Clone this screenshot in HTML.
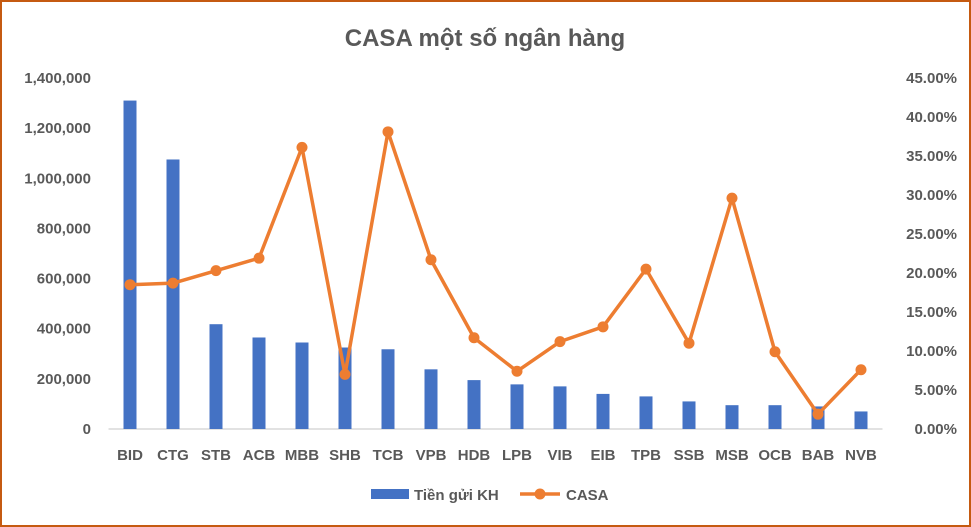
<!DOCTYPE html>
<html><head><meta charset="utf-8"><style>
body{margin:0;background:#fff}
svg{display:block;font-family:"Liberation Sans",sans-serif}
</style></head><body>
<svg id="chart" width="971" height="527">
<rect x="1" y="1" width="969" height="525" fill="#fff" stroke="#C55A11" stroke-width="2"/>
<text x="485" y="46" text-anchor="middle" font-size="24" font-weight="bold" fill="#595959">CASA một số ngân hàng</text>
<g id="g"></g>
</svg>
<script>
const categories=["BID","CTG","STB","ACB","MBB","SHB","TCB","VPB","HDB","LPB","VIB","EIB","TPB","SSB","MSB","OCB","BAB","NVB"];
const deposits=[1310000,1075000,418000,365000,345000,325000,318000,238000,195000,178000,170000,140000,130000,110000,95000,95000,90000,70000];
const casa=[18.5,18.7,20.3,21.9,36.1,7.0,38.1,21.7,11.7,7.4,11.2,13.1,20.5,11.0,29.6,9.9,1.9,7.6];
const leftTicks=[0,200000,400000,600000,800000,1000000,1200000,1400000];
const rightTicks=[0,5,10,15,20,25,30,35,40,45];
const NS="http://www.w3.org/2000/svg";
const g=document.getElementById('g');
const L=108.5,R=882.5,T=78,B=429;
const step=(R-L)/categories.length;
const xc=i=>L+step*(i+0.5);
const yl=v=>B-(v/1400000)*(B-T);
const yr=v=>B-(v/45)*(B-T);
function mk(tag,attrs,txt){const e=document.createElementNS(NS,tag);for(const k in attrs)e.setAttribute(k,attrs[k]);if(txt!==undefined)e.textContent=txt;g.appendChild(e);return e;}
const ax=mk('line',{x1:L,x2:R,y1:B,y2:B,stroke:'#d9d9d9','stroke-width':1.5});


leftTicks.forEach(v=>{const t=mk('text',{x:91,y:yl(v)+5,'text-anchor':'end','font-size':15,'font-weight':'bold',fill:'#595959'},v.toLocaleString('en-US'));

});
rightTicks.forEach(v=>{const t=mk('text',{x:957,y:yr(v)+5,'text-anchor':'end','font-size':15,'font-weight':'bold',fill:'#595959'},v.toFixed(2)+'%');

});
categories.forEach((c,i)=>{
const b=mk('rect',{x:xc(i)-6.5,y:yl(deposits[i]),width:13,height:B-yl(deposits[i]),fill:'#4472C4'});


const t=mk('text',{x:xc(i),y:460,'text-anchor':'middle','font-size':15,'font-weight':'bold',fill:'#595959'},c);


});
const pl=mk('polyline',{points:casa.map((v,i)=>xc(i)+','+yr(v)).join(' '),fill:'none',stroke:'#ED7D31','stroke-width':3.5,'stroke-linejoin':'round'});


casa.forEach((v,i)=>{const c=mk('circle',{cx:xc(i),cy:yr(v),r:5.5,fill:'#ED7D31'});

});
// legend
const lb=mk('rect',{x:371,y:489,width:38,height:10,fill:'#4472C4'});


const lt1=mk('text',{x:414,y:500,'font-size':15,'font-weight':'bold',fill:'#595959'},'Tiền gửi KH');


const ll=mk('line',{x1:520,x2:560,y1:494,y2:494,stroke:'#ED7D31','stroke-width':3.5});


const lc=mk('circle',{cx:540,cy:494,r:5.5,fill:'#ED7D31'});


const lt2=mk('text',{x:566,y:500,'font-size':15,'font-weight':'bold',fill:'#595959'},'CASA');


</script>
</body></html>
